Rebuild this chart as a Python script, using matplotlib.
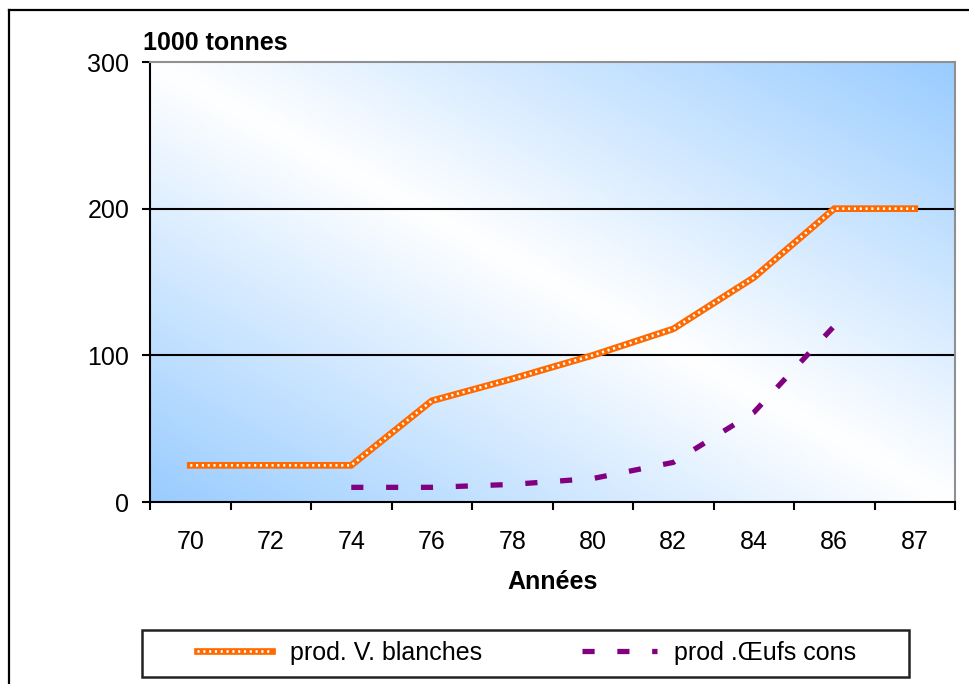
import numpy as np
import matplotlib
matplotlib.use('Agg')
import matplotlib.pyplot as plt
from matplotlib.lines import Line2D
from matplotlib.patches import Rectangle
from matplotlib.legend_handler import HandlerTuple

# Production (1000 tonnes) par année
annees = ['70', '72', '74', '76', '78', '80', '82', '84', '86', '87']
viandes_blanches = [25, 25, 25, 69, 84, 100, 118, 153, 200, 200]
oeufs_annees = ['74', '76', '78', '80', '82', '84', '86']
oeufs_cons = [10, 10, 12, 16, 27, 61, 120]

plt.rcParams['font.family'] = ['Liberation Sans', 'DejaVu Sans']
plt.rcParams['font.size'] = 18

fig = plt.figure(figsize=(9.7, 6.84), dpi=100)
ax = fig.add_axes([150 / 970, 1 - 502 / 684, 805 / 970, 440 / 684])

x = np.arange(len(annees))
x_oeufs = [annees.index(a) for a in oeufs_annees]

# fond dégradé : bleu dans les coins bas-gauche et haut-droit, blanc au centre
gx, gy = np.meshgrid(np.linspace(0, 1, 300), np.linspace(0, 1, 300))
t = np.abs(gx + gy - 1)
bleu = np.array([153, 204, 255]) / 255
img = np.ones((300, 300, 3)) * (1 - t[..., None]) + bleu * t[..., None]
ax.imshow(img, extent=[0, 1, 0, 1], transform=ax.transAxes, origin='lower',
          aspect='auto', zorder=0)

ax.set_xlim(-0.5, len(annees) - 0.5)
ax.set_ylim(0, 300)

for yv in [100, 200]:
    ax.axhline(yv, color='black', lw=1.5, zorder=1)

# ligne orange « perlée »
l1, = ax.plot(x, viandes_blanches, color='#ff6a00', lw=4.8, zorder=3,
              solid_joinstyle='miter')
l1b, = ax.plot(x, viandes_blanches, color='white', lw=1.9, zorder=4,
               dashes=(0.8, 1.4), dash_capstyle='butt')
l2, = ax.plot(x_oeufs, oeufs_cons, color='#800080', lw=3.8, zorder=3,
              dashes=(2.3, 4.3), dash_capstyle='butt')

ax.set_yticks([0, 100, 200, 300])
ax.tick_params(axis='y', length=6, width=1.5, pad=9, direction='out')
ax.set_xticks(x)
ax.set_xticklabels(annees)
ax.set_xticks(np.arange(-0.5, len(annees)), minor=True)
ax.tick_params(axis='x', which='major', length=0, pad=20)
ax.tick_params(axis='x', which='minor', length=6, width=1.5, direction='out')

for s in ['left', 'bottom']:
    ax.spines[s].set_color('black')
    ax.spines[s].set_linewidth(1.5)
for s in ['top', 'right']:
    ax.spines[s].set_color('#909090')
    ax.spines[s].set_linewidth(1.5)

ax.set_xlabel('Années', fontweight='bold', labelpad=12)
fig.text(143 / 970, 1 - 43 / 684, '1000 tonnes', fontweight='bold',
         ha='left', va='center')

# cadre de la légende
fig.patches.append(Rectangle((142 / 970, 1 - 677 / 684), 767 / 970, 47 / 684,
                             transform=fig.transFigure, fill=False,
                             edgecolor='#222222', lw=1.8))
fig.legend([(l1, l1b), l2], ['prod. V. blanches', 'prod .Œufs cons'],
           handler_map={tuple: HandlerTuple(ndivide=1, pad=0)},
           loc='center', bbox_to_anchor=(527 / 970, 1 - 653 / 684),
           ncol=2, frameon=False, handlelength=3.0, handletextpad=0.7,
           columnspacing=4.0)

# bordure de la figure
fig.add_artist(Line2D([9 / 970, 9 / 970], [0, 1 - 10 / 684], color='black',
                      lw=1.6, transform=fig.transFigure))
fig.add_artist(Line2D([9 / 970, 1], [1 - 10 / 684, 1 - 10 / 684],
                      color='black', lw=1.6, transform=fig.transFigure))

plt.savefig('out.png', dpi=100)
